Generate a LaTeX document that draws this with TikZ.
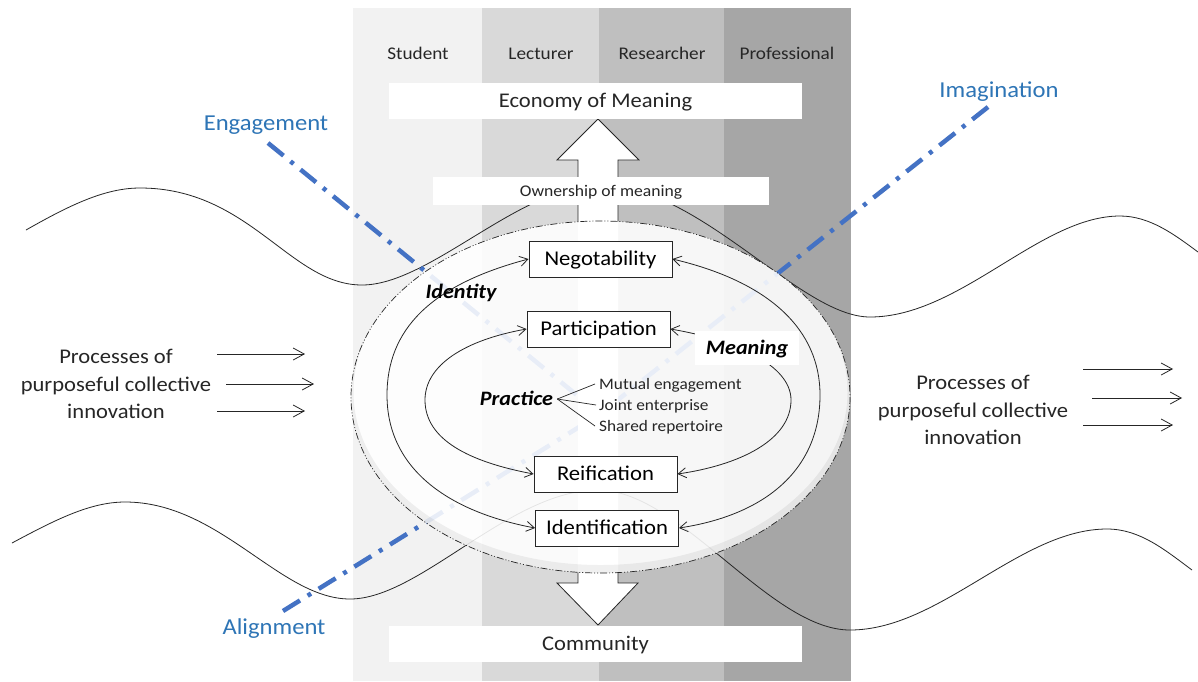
\documentclass[tikz,border=0pt]{standalone}
\usepackage{fontspec}
\setmainfont[FakeStretch=1.08]{Carlito}
\usetikzlibrary{arrows.meta}
\definecolor{cStu}{HTML}{F2F2F2}
\definecolor{cLec}{HTML}{D9D9D9}
\definecolor{cRes}{HTML}{BFBFBF}
\definecolor{cPro}{HTML}{A6A6A6}
\definecolor{blueLine}{HTML}{4472C4}
\definecolor{blueText}{HTML}{2E75B6}
\definecolor{ink}{HTML}{262626}
\newcommand{\myfs}[1]{\fontsize{#1pt}{#1pt}\selectfont}
\begin{document}
\begin{tikzpicture}[x=1pt,y=-1pt,
  collbl/.style={anchor=base, font=\myfs{17.8}, text=ink, inner sep=0pt},
  wbox/.style={fill=white, inner sep=0pt, text depth=0pt, text=ink},
  lbox/.style={draw=ink, line width=0.9pt, fill=white, minimum width=143pt, minimum height=36pt, inner sep=0pt, text height=13.5pt, text depth=0pt, font=\myfs{21}, text=black},
  cyc/.style={draw=ink, line width=0.8pt, {Straight Barb[length=8pt,width=10pt]}-{Straight Barb[length=8pt,width=10pt]}},
  bluedash/.style={draw=blueLine, line width=4.5pt, dash pattern=on 20pt off 9pt on 4pt off 9pt},
  bluelbl/.style={inner sep=0pt, text height=14.7pt, text depth=0pt, font=\myfs{22.8}, text=blueText},
  bi/.style={inner sep=0pt, text height=13.2pt, text depth=0pt, font=\myfs{20.5}\bfseries\itshape, text=black},
  subtxt/.style={inner sep=0pt, text height=10.3pt, text depth=0pt, font=\myfs{16}, text=ink, anchor=west},
  proc/.style={font=\fontsize{20.9pt}{27.5pt}\selectfont, align=center, text=ink, inner sep=0pt},
  parr/.style={draw=ink, line width=0.8pt, -{Straight Barb[length=11pt,width=12pt]}},
  wavy/.style={draw=ink, line width=0.8pt}
]
\useasboundingbox (0,0) rectangle (1198,681);
\fill[white] (0,0) rectangle (1198,681);

% columns
\fill[cStu] (353,8) rectangle (482,681);
\fill[cLec] (482,8) rectangle (599,681);
\fill[cRes] (599,8) rectangle (724,681);
\fill[cPro] (724,8) rectangle (851,681);
\node[collbl] (stu) at (418,59) {Student};
\node[collbl] (lec) at (541,59) {Lecturer};
\node[collbl] (res) at (662,59) {Researcher};
\node[collbl] (pro) at (787,59) {Professional};

% waves
\draw[wavy] (26,230) .. controls (70,205) and (105,188) .. (140,188)
  .. controls (250,188) and (290,285) .. (362,285)
  .. controls (430,285) and (520,185) .. (600,185)
  .. controls (700,185) and (800,317) .. (870,317)
  .. controls (960,317) and (1040,216) .. (1120,216)
  .. controls (1150,216) and (1175,235) .. (1198,252);
\draw[wavy] (12,543) .. controls (55,520) and (90,502) .. (125,502)
  .. controls (220,502) and (280,599) .. (350,599)
  .. controls (420,599) and (510,490) .. (598,490)
  .. controls (680,490) and (770,630) .. (850,630)
  .. controls (940,630) and (1020,529) .. (1107,529)
  .. controls (1140,529) and (1165,550) .. (1192,570);

% blue dash-dot lines
\coordinate (c0) at (600,414);
\coordinate (eng0) at (268,143);
\coordinate (ima0) at (988,107);
\coordinate (ali0) at (283,611);
\draw[bluedash] (eng0) -- (c0);
\draw[bluedash] (ima0) -- (c0);
\draw[bluedash] (ali0) -- (c0);

% double white arrow
\fill[white] (598,119) -- (639,160) -- (618,160) -- (618,583) -- (638,583) -- (598,625) -- (557,583) -- (578,583) -- (578,160) -- (557,160) -- cycle;
\draw[ink, line width=0.8pt] (578,222) -- (578,160) -- (557,160) -- (598,119) -- (639,160) -- (618,160) -- (618,222);
\draw[ink, line width=0.8pt] (578,572) -- (578,583) -- (557,583) -- (598,625) -- (638,583) -- (618,583) -- (618,572);

% big ellipse
\fill[white, opacity=0.88] (600.5,397) ellipse [x radius=249.5, y radius=176];
\begin{scope}
\clip (600.5,397) ellipse [x radius=249.5, y radius=176];
\draw[black, opacity=0.06, line width=8pt] (600.5,392) ellipse [x radius=251, y radius=177];
\end{scope}
\draw[ink, line width=0.7pt, dash pattern=on 7pt off 2pt on 1pt off 2pt on 1pt off 2pt] (600.5,397) ellipse [x radius=249.5, y radius=176];

% boxes
\node[lbox] (neg) at (600.5,259) {Negotability};
\node[lbox] (par) at (598.5,329) {Participation};
\node[lbox] (rei) at (605.5,474) {Reification};
\node[lbox] (idf) at (607,528) {Identification};

% loops
\draw[cyc] (neg.west) .. controls (430,285) and (387,330) .. (387,395) .. controls (387,470) and (450,512) .. (idf.west);
\draw[cyc] (neg.east) .. controls (770,282) and (820,330) .. (820,395) .. controls (820,470) and (765,515) .. (idf.east);
\draw[cyc] (par.west) .. controls (465,340) and (425,365) .. (425,400) .. controls (425,440) and (470,462) .. (rei.west);
\draw[cyc] (par.east) .. controls (735,340) and (791,365) .. (791,400) .. controls (791,440) and (740,465) .. (rei.east);

% labels
\node[bi] (ident) at (461,292) {Identity};
\node[bi, fill=white, inner xsep=11pt, inner ysep=10pt] (mean) at (747,348) {Meaning};
\node[bi] (prac) at (516.5,399) {Practice};
\node[subtxt] (mut) at (599,384) {Mutual engagement};
\node[subtxt] (joi) at (599,405) {Joint enterprise};
\node[subtxt] (sha) at (599,426) {Shared repertoire};
\coordinate (pb) at ([xshift=4pt]prac.east);
\draw[ink, line width=0.7pt] (pb) -- ([xshift=-4pt]mut.west);
\draw[ink, line width=0.7pt] (pb) -- ([xshift=-3pt]joi.west);
\draw[ink, line width=0.7pt] (pb) -- ([xshift=-4pt]sha.west);

% top/bottom boxes
\node[wbox, minimum width=413pt, minimum height=36pt, font=\myfs{20.9}, text height=13.5pt] (eco) at (595.5,101) {Economy of Meaning};
\node[wbox, minimum width=336pt, minimum height=28pt, font=\myfs{16.3}, text height=10.5pt] (own) at (601,191) {Ownership of meaning};
\node[wbox, minimum width=413pt, minimum height=36pt, font=\myfs{20.9}, text height=13.5pt] (com) at (595.5,644) {Community};

% blue labels
\node[bluelbl] (engl) at (266,123) {Engagement};
\node[bluelbl] (imal) at (999,90) {Imagination};
\node[bluelbl] (alil) at (274,627) {Alignment};

% processes
\node[proc] (pl) at (116,384) {Processes of\\purposeful collective\\innovation};
\node[proc] (pr) at (973,410) {Processes of\\purposeful collective\\innovation};
\coordinate (la1) at (217,354); \coordinate (lb1) at (305,354);
\coordinate (la2) at (226,384); \coordinate (lb2) at (314,384);
\coordinate (la3) at (217,411); \coordinate (lb3) at (305,411);
\draw[parr] (la1) -- (lb1);
\draw[parr] (la2) -- (lb2);
\draw[parr] (la3) -- (lb3);
\coordinate (ra1) at (1083,369); \coordinate (rb1) at (1173,369);
\coordinate (ra2) at (1092,398); \coordinate (rb2) at (1182,398);
\coordinate (ra3) at (1083,425); \coordinate (rb3) at (1173,425);
\draw[parr] (ra1) -- (rb1);
\draw[parr] (ra2) -- (rb2);
\draw[parr] (ra3) -- (rb3);
\end{tikzpicture}
\end{document}
